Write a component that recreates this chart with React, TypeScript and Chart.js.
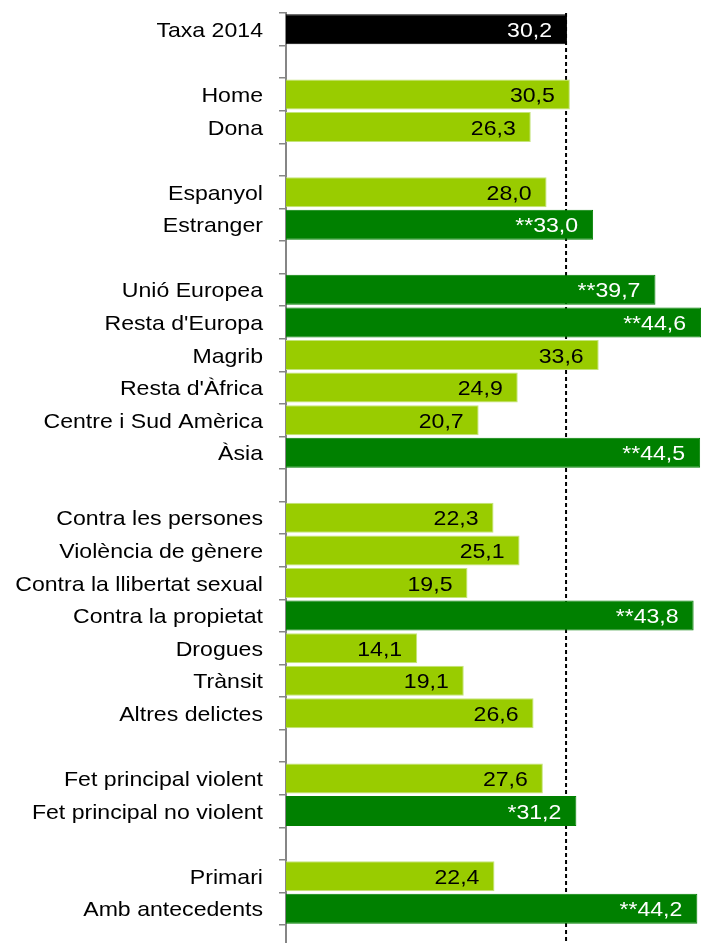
import React, { useEffect, useRef } from "react";
import { Chart, registerables } from "chart.js";

Chart.register(...registerables);

const categories: string[] = [
  "Taxa 2014", "",
  "Home", "Dona", "",
  "Espanyol", "Estranger", "",
  "Unió Europea", "Resta d'Europa", "Magrib", "Resta d'Àfrica", "Centre i Sud Amèrica", "Àsia", "",
  "Contra les persones", "Violència de gènere", "Contra la llibertat sexual", "Contra la propietat", "Drogues", "Trànsit", "Altres delictes", "",
  "Fet principal violent", "Fet principal no violent", "",
  "Primari", "Amb antecedents",
];

const values: (number | null)[] = [
  30.2, null,
  30.5, 26.3, null,
  28.0, 33.0, null,
  39.7, 44.6, 33.6, 24.9, 20.7, 44.5, null,
  22.3, 25.1, 19.5, 43.8, 14.1, 19.1, 26.6, null,
  27.6, 31.2, null,
  22.4, 44.2,
];

const significance: string[] = [
  "", "",
  "", "", "",
  "", "**", "",
  "**", "**", "", "", "", "**", "",
  "", "", "", "**", "", "", "", "",
  "", "*", "",
  "", "**",
];

const referenceRate = 30.2;
const xMax = 44.7;

const COLOR_TOTAL = "#000000";
const COLOR_LIGHT = "#99CC00";
const COLOR_DARK = "#008000";
const AXIS_GRAY = "#868686";
const FONT = '"Liberation Sans", Arial, sans-serif';
const FONT_SIZE = 21;
const STRETCH = 1.1;

function barColor(i: number): string {
  if (i === 0) return COLOR_TOTAL;
  return significance[i] ? COLOR_DARK : COLOR_LIGHT;
}
function borderColor(i: number): string {
  if (i === 0) return COLOR_TOTAL;
  return significance[i] ? COLOR_DARK : "#C4E47A";
}
function fmt(v: number): string {
  return v.toFixed(1).replace(".", ",");
}

function drawStretched(ctx: CanvasRenderingContext2D, text: string, xRight: number, yCenter: number, color: string) {
  ctx.save();
  ctx.font = `${FONT_SIZE}px ${FONT}`;
  ctx.fillStyle = color;
  ctx.textAlign = "right";
  ctx.textBaseline = "alphabetic";
  ctx.translate(xRight, yCenter + FONT_SIZE * 0.36);
  ctx.scale(STRETCH, 1);
  ctx.fillText(text, 0, 0);
  ctx.restore();
}

const overlayPlugin = {
  id: "overlay",
  beforeDatasetsDraw(chart: any) {
    const ctx: CanvasRenderingContext2D = chart.ctx;
    const x = chart.scales.x.getPixelForValue(referenceRate) - 1;
    ctx.save();
    ctx.strokeStyle = "#000000";
    ctx.lineWidth = 2;
    ctx.setLineDash([4, 3]);
    ctx.beginPath();
    ctx.moveTo(x, chart.chartArea.top);
    ctx.lineTo(x, chart.height);
    ctx.stroke();
    ctx.restore();
    // extend axis line to bottom
    ctx.save();
    ctx.strokeStyle = AXIS_GRAY;
    ctx.lineWidth = 2;
    ctx.beginPath();
    ctx.moveTo(chart.chartArea.left, chart.chartArea.bottom - 1);
    ctx.lineTo(chart.chartArea.left, chart.height);
    ctx.stroke();
    ctx.restore();
  },
  afterDatasetsDraw(chart: any) {
    const ctx: CanvasRenderingContext2D = chart.ctx;
    const yScale = chart.scales.y;
    const meta = chart.getDatasetMeta(0);
    categories.forEach((label, i) => {
      const y = yScale.getPixelForValue(i);
      if (label) drawStretched(ctx, label, 263, y, "#000000");
      const v = values[i];
      if (v !== null) {
        const bar = meta.data[i];
        const textColor = i === 0 || significance[i] ? "#FFFFFF" : "#000000";
        drawStretched(ctx, significance[i] + fmt(v), bar.x - 15, y, textColor);
      }
    });
  },
};

export default function App() {
  const ref = useRef<HTMLCanvasElement | null>(null);
  useEffect(() => {
    if (!ref.current) return;
    const chart = new Chart(ref.current, {
      type: "bar",
      data: {
        labels: categories,
        datasets: [
          {
            data: values as any,
            backgroundColor: categories.map((_, i) => barColor(i)),
            borderColor: categories.map((_, i) => borderColor(i)),
            borderWidth: 1,
            barPercentage: 0.92,
            categoryPercentage: 1,
          },
        ],
      },
      options: {
        indexAxis: "y",
        animation: false,
        responsive: false,
        maintainAspectRatio: false,
        devicePixelRatio: 1,
        layout: { padding: { top: 13, bottom: 18, left: 0, right: 0 } },
        plugins: { legend: { display: false }, tooltip: { enabled: false } },
        scales: {
          x: { display: false, min: 0, max: xMax },
          y: {
            type: "category",
            offset: true,
            grid: {
              offset: true,
              drawOnChartArea: false,
              drawTicks: true,
              tickLength: 7,
              color: AXIS_GRAY,
              lineWidth: 1.5,
            },
            border: { display: true, color: AXIS_GRAY, width: 2 },
            ticks: { display: false, autoSkip: false },
            afterFit: (scale: any) => {
              scale.width = 286;
            },
          },
        },
      },
      plugins: [overlayPlugin],
    } as any);
    return () => chart.destroy();
  }, []);
  return (
    <div style={{ position: "fixed", left: 0, top: 0, width: 702, height: 943, background: "#fff" }}>
      <canvas ref={ref} width={702} height={943} style={{ display: "block", width: 702, height: 943 }} />
    </div>
  );
}
